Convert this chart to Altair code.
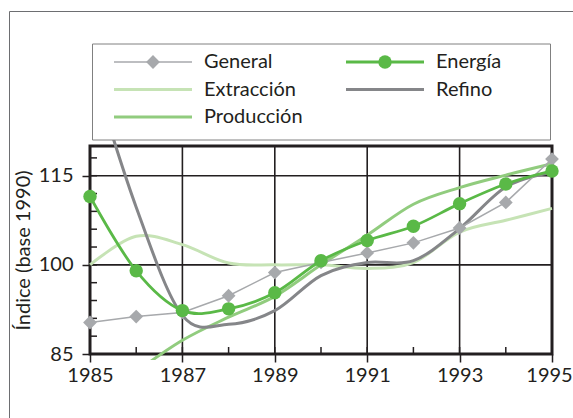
import altair as alt
import pandas as pd

# Índices de producción industrial (base 1990)
years = list(range(1985, 1996))
general = [90.3, 91.3, 92.0, 94.8, 98.7, 100.4, 102.0, 103.7, 106.2, 110.5, 117.8]
energia = [111.5, 99.0, 92.3, 92.6, 95.3, 100.7, 104.1, 106.5, 110.3, 113.6, 115.8]
extraccion = [100.0, 104.8, 103.4, 100.3, 100.0, 100.0, 99.4, 100.4, 105.5, 107.5, 109.5]
refino = [134.0, 109.7, 91.5, 90.0, 92.3, 98.2, 100.4, 100.7, 106.1, 113.1, 115.6]
produccion = [76.0, 82.0, 87.3, 91.2, 94.7, 100.0, 105.0, 110.2, 113.0, 115.1, 117.0]

x_labels = [1985, 1987, 1989, 1991, 1993, 1995]
y_labels = [85, 100, 115]
grid_years = [1987, 1989, 1991, 1993]
grid_values = [100, 115]
minor_years = list(range(1985, 1996))
minor_values = list(range(85, 120, 3))

# layout (pixels)
PAD_L, PAD_T, W, H = 90, 146, 462, 208
FONT = "Lato"
FS = 20
DARK = "#231f20"
C_GEN = "#a7a9ac"
C_ENE = "#5ab947"
C_EXT = "#c6e3b5"
C_PRO = "#91cc7e"
C_REF = "#858689"


def px(v):
    return v - PAD_L


def py(v):
    return v - PAD_T


df = pd.DataFrame({
    "year": years,
    "general": general,
    "energia": energia,
    "extraccion": extraccion,
    "refino": refino,
    "produccion": produccion,
})

xs = alt.Scale(domain=[1985, 1995], nice=False, zero=False)
ys = alt.Scale(domain=[85, 120], nice=False, zero=False)

x_axis = alt.Axis(values=x_labels, format="d", title=None, grid=False, domain=False,
                  tickSize=8, tickWidth=1.5, tickColor=DARK,
                  labelFont=FONT, labelFontSize=FS, labelColor=DARK,
                  labelPadding=3, labelFlush=False, zindex=1,
                  labelOffset={"condition": {"test": "datum.value == 1995", "value": -3}, "value": 0})
y_axis = alt.Axis(values=y_labels, title="Índice (base 1990)", grid=False, domain=False,
                  tickSize=8, tickWidth=1.5, tickColor=DARK,
                  labelFont=FONT, labelFontSize=FS, labelColor=DARK, labelPadding=9,
                  titleFont=FONT, titleFontSize=FS, titleFontWeight="normal",
                  titleColor=DARK, titlePadding=5, zindex=1)


def X(field="year"):
    return alt.X(f"{field}:Q", scale=xs, axis=x_axis)


def Y(field):
    return alt.Y(f"{field}:Q", scale=ys, axis=y_axis)


one = pd.DataFrame({"k": [0]})
layers = []

# outer frame
layers.append(alt.Chart(one).mark_rect(fill=None, stroke="#6d6e71", strokeWidth=1).encode(
    x=alt.value(px(9.5)), x2=alt.value(px(700)), y=alt.value(py(11.5)), y2=alt.value(py(700))))

# grid lines
layers.append(alt.Chart(pd.DataFrame({"g": grid_years})).mark_rule(color=DARK, strokeWidth=1.6).encode(
    x=X("g"), y=alt.value(0), y2=alt.value(H)))
layers.append(alt.Chart(pd.DataFrame({"g": grid_values})).mark_rule(color=DARK, strokeWidth=1.6).encode(
    y=Y("g"), x=alt.value(0), x2=alt.value(W)))

# inward minor ticks
layers.append(alt.Chart(pd.DataFrame({"m": minor_years})).mark_rule(color=DARK, strokeWidth=1.5).encode(
    x=X("m"), y=alt.value(H - 7), y2=alt.value(H)))
layers.append(alt.Chart(pd.DataFrame({"m": minor_values})).mark_rule(color=DARK, strokeWidth=1.5).encode(
    y=Y("m"), x=alt.value(0), x2=alt.value(7)))

base = alt.Chart(df)
layers.append(base.mark_line(color=C_EXT, strokeWidth=3, interpolate="cardinal").encode(x=X(), y=Y("extraccion")))
layers.append(base.mark_line(color=C_PRO, strokeWidth=3, interpolate="cardinal").encode(x=X(), y=Y("produccion")))
layers.append(base.mark_line(color=C_REF, strokeWidth=3, interpolate="cardinal").encode(x=X(), y=Y("refino")))
layers.append(base.mark_line(color=C_GEN, strokeWidth=1.5).encode(x=X(), y=Y("general")))
layers.append(base.mark_point(shape="diamond", filled=True, size=190, color=C_GEN, opacity=1).encode(
    x=X(), y=Y("general")))
layers.append(base.mark_line(color=C_ENE, strokeWidth=2.8, interpolate="cardinal").encode(x=X(), y=Y("energia")))
layers.append(base.mark_point(shape="circle", filled=True, size=180, color=C_ENE, opacity=1).encode(
    x=X(), y=Y("energia")))

# white masks around the plot area
layers.append(alt.Chart(one).mark_rect(fill="white").encode(
    x=alt.value(px(40)), x2=alt.value(px(572)), y=alt.value(py(360)), y2=alt.value(py(417))))
layers.append(alt.Chart(one).mark_rect(fill="white").encode(
    x=alt.value(px(40)), x2=alt.value(px(572)), y=alt.value(py(13)), y2=alt.value(py(140))))

# legend box
layers.append(alt.Chart(one).mark_rect(fill="white", stroke="#808080", strokeWidth=1).encode(
    x=alt.value(px(92.5)), x2=alt.value(px(550.5)), y=alt.value(py(44)), y2=alt.value(py(140))))

legend_items = [
    ("General", C_GEN, 1.5, "diamond"),
    ("Energía", C_ENE, 2.8, "circle"),
    ("Extracción", C_EXT, 3, None),
    ("Refino", C_REF, 3, None),
    ("Producción", C_PRO, 3, None),
]
col_x = [114, 346]
row_y = [62, 89.5, 117]
for i, (label, color, width, shape) in enumerate(legend_items):
    cx = col_x[i % 2]
    cy = row_y[i // 2]
    layers.append(alt.Chart(one).mark_rule(color=color, strokeWidth=width).encode(
        x=alt.value(px(cx)), x2=alt.value(px(cx + 78)), y=alt.value(py(cy))))
    if shape:
        layers.append(alt.Chart(one).mark_point(shape=shape, filled=True, opacity=1, color=color,
                                                size=190 if shape == "diamond" else 180).encode(
            x=alt.value(px(cx + 39)), y=alt.value(py(cy))))
    layers.append(alt.Chart(one).mark_text(align="left", baseline="middle", font=FONT,
                                           fontSize=FS, color=DARK).encode(
        x=alt.value(px(cx + 90)), y=alt.value(py(cy)), text=alt.value(label)))

chart = alt.layer(*layers).properties(
    width=W, height=H,
    autosize=alt.AutoSizeParams(type="none"),
    padding={"left": PAD_L, "top": PAD_T, "right": 573 - PAD_L - W, "bottom": 418 - PAD_T - H},
    background="white",
).configure_view(stroke=DARK, strokeWidth=3)

chart.save("out.html", embed_options={"renderer": "svg", "actions": False})
